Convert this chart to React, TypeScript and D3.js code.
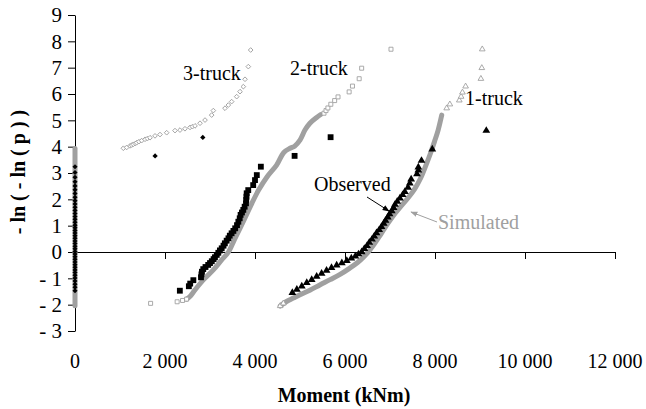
import React, { useEffect, useRef } from "react";
import * as d3 from "d3";

type Pt = [number, number];

// y tick values and x tick values
const yTicks = [-3, -2, -1, 0, 1, 2, 3, 4, 5, 6, 7, 8, 9];
const xTicks = [0, 2000, 4000, 6000, 8000, 10000, 12000];

// 3-truck: most events give zero moment (stacked at x = 0)
const sim3Zero = [-2.04, -1.8, -1.5, -1.2, -0.9, -0.6, -0.3, 0, 0.3, 0.6, 0.9, 1.2, 1.5, 1.8, 2.1, 2.4, 2.7, 3.0, 3.3, 3.6, 3.93];
const obs3Zero = [-1.47, -1.34, -1.22, -1.1, -0.99, -0.88, -0.78, -0.68, -0.58, -0.48, -0.38, -0.28, -0.18, -0.08, 0.02, 0.12, 0.22, 0.32, 0.42, 0.52, 0.62, 0.72, 0.82, 0.92, 1.02, 1.13, 1.24, 1.35, 1.46, 1.58, 1.7, 1.82, 1.95, 2.08, 2.22, 2.36, 2.51, 2.67, 2.84, 3.02, 3.24];
const sim3: Pt[] = [
  [1074, 3.94], [1148, 3.97], [1222, 4.03], [1260, 4.06], [1296, 4.09], [1340, 4.12], [1370, 4.15],
  [1420, 4.19], [1481, 4.23], [1556, 4.28], [1610, 4.31], [1667, 4.34], [1778, 4.41], [1889, 4.46],
  [2037, 4.53], [2222, 4.61], [2333, 4.63], [2444, 4.68], [2556, 4.73], [2610, 4.76], [2667, 4.79],
  [2778, 4.89], [2889, 5.01], [3037, 5.2], [3074, 5.37], [3333, 5.46], [3407, 5.58], [3481, 5.71],
  [3593, 5.9], [3667, 6.09], [3741, 6.28], [3778, 6.56], [3852, 7.04], [3904, 7.67],
];
const obs3: Pt[] = [[1780, 3.65], [2840, 4.35]];

// 2-truck
const sim2Low: Pt[] = [[1680, -1.95], [2270, -1.89], [2390, -1.84], [2480, -1.79]];
const sim2Band: Pt[] = [
  [2480, -1.79], [2560, -1.68], [2667, -1.44], [2852, -1.06], [3074, -0.68], [3259, -0.3],
  [3410, 0.0], [3540, 0.46], [3650, 0.84], [3790, 1.34], [3930, 1.85], [4080, 2.35],
  [4270, 2.86], [4480, 3.3], [4640, 3.78], [4780, 3.94], [4880, 4.02], [5000, 4.25],
  [5110, 4.63], [5220, 4.89], [5370, 5.11], [5460, 5.22],
];
const sim2High: Pt[] = [
  [5533, 5.27], [5578, 5.37], [5620, 5.47], [5685, 5.61], [5770, 5.75], [5845, 5.89],
  [6092, 6.08], [6166, 6.3], [6315, 6.58], [6370, 6.98], [7022, 7.7],
];
const obs2: Pt[] = [
  [2330, -1.47], [2530, -1.3], [2560, -1.2], [2630, -1.07], [2800, -0.96], [2810, -0.85],
  [2820, -0.75], [2850, -0.65], [2900, -0.57], [2960, -0.49], [3000, -0.42], [3040, -0.35],
  [3080, -0.27], [3110, -0.2], [3150, -0.11], [3185, -0.03], [3220, 0.06], [3260, 0.14],
  [3300, 0.24], [3330, 0.33], [3370, 0.43], [3410, 0.52], [3440, 0.62], [3480, 0.71],
  [3520, 0.8], [3560, 0.9], [3600, 1.02], [3630, 1.15], [3660, 1.28], [3680, 1.41],
  [3710, 1.5], [3740, 1.6], [3770, 1.72], [3800, 1.85], [3805, 1.98], [3810, 2.1],
  [3815, 2.23], [3850, 2.35], [3960, 2.54], [4000, 2.73], [4040, 2.92], [4130, 3.24],
  [4880, 3.65], [5680, 4.36],
];

// 1-truck
const sim1Band: Pt[] = [
  [4560, -2.05], [4700, -1.88], [4850, -1.75], [5000, -1.62], [5220, -1.45], [5440, -1.25],
  [5670, -1.05], [5890, -0.85], [6100, -0.62], [6280, -0.4], [6420, -0.18], [6540, 0.05],
  [6650, 0.3], [6760, 0.58], [6880, 0.9], [7000, 1.2], [7120, 1.48], [7250, 1.75],
  [7400, 2.05], [7550, 2.4], [7680, 2.8], [7800, 3.3], [7900, 3.75], [7990, 4.2],
  [8070, 4.63], [8150, 5.2],
];
const sim1Low: Pt[] = [[4560, -2.05], [4630, -1.95]];
const sim1High: Pt[] = [
  [8260, 5.46], [8330, 5.61], [8540, 5.76], [8580, 5.9], [8610, 6.06], [8680, 6.29],
  [9020, 6.58], [9040, 6.99], [9050, 7.7],
];
const obs1: Pt[] = [
  [4830, -1.55], [4930, -1.42], [5040, -1.3], [5150, -1.17], [5260, -1.05], [5370, -0.93],
  [5480, -0.82], [5590, -0.7], [5700, -0.6], [5815, -0.5], [5930, -0.42], [6040, -0.33],
  [6140, -0.24], [6230, -0.16], [6300, -0.08], [6370, 0.0], [6430, 0.12], [6490, 0.24],
  [6540, 0.36], [6600, 0.48], [6650, 0.6], [6700, 0.72], [6760, 0.84], [6810, 0.96],
  [6860, 1.08], [6900, 1.2], [6950, 1.32], [6990, 1.44], [7040, 1.56], [7080, 1.68],
  [7110, 1.8], [7160, 1.92], [7220, 2.04], [7280, 2.17], [7330, 2.29], [7400, 2.45],
  [7440, 2.61], [7470, 2.76], [7600, 2.96], [7630, 3.1], [7630, 3.22], [7700, 3.47],
  [7940, 3.9], [9140, 4.61],
];

const GRAY = "#a0a0a0";
const FONT = "'Liberation Serif', 'Times New Roman', serif";

const App: React.FC = () => {
  const svgRef = useRef<SVGSVGElement | null>(null);

  useEffect(() => {
    const width = 646;
    const height = 409;
    const svg = d3.select(svgRef.current);
    svg.selectAll("*").remove();
    svg.attr("viewBox", [0, 0, width, height]).attr("width", width).attr("height", height);

    const x = d3.scaleLinear().domain([0, 12000]).range([75, 615]);
    const y = d3.scaleLinear().domain([-3, 9]).range([331, 15]);

    const fmt = d3.formatLocale({ decimal: ".", thousands: " ", grouping: [3], currency: ["", ""] }).format(",");

    // axes
    const gy = svg
      .append("g")
      .attr("transform", `translate(${x(0)},0)`)
      .call(
        d3
          .axisLeft(y)
          .tickValues(yTicks)
          .tickSize(7)
          .tickSizeOuter(0)
          .tickPadding(6)
          .tickFormat((d) => ((d as number) < 0 ? "- " + Math.abs(d as number) : String(d))),
      );
    gy.selectAll("text").style("font-family", FONT).style("font-size", "21px").attr("fill", "#000");

    const gx = svg
      .append("g")
      .attr("transform", `translate(0,${y(0)})`)
      .call(d3.axisBottom(x).tickValues(xTicks).tickSize(7).tickSizeOuter(0).tickFormat(() => ""));
    gx.select(".domain").attr("stroke", "#000");

    svg
      .append("g")
      .selectAll("text")
      .data(xTicks)
      .enter()
      .append("text")
      .attr("x", (d) => x(d))
      .attr("y", 368)
      .attr("text-anchor", "middle")
      .style("font-family", FONT)
      .style("font-size", "20px")
      .text((d) => fmt(d));

    // axis titles
    svg
      .append("text")
      .attr("x", 344)
      .attr("y", 402)
      .attr("text-anchor", "middle")
      .style("font-family", FONT)
      .style("font-size", "20px")
      .style("font-weight", "bold")
      .text("Moment (kNm)");

    svg
      .append("text")
      .attr("transform", "translate(25,172) rotate(-90)")
      .attr("text-anchor", "middle")
      .style("font-family", FONT)
      .style("font-size", "20px")
      .style("font-weight", "bold")
      .text("- ln ( - ln ( p ) )");

    const line = d3
      .line<Pt>()
      .x((d) => x(d[0]))
      .y((d) => y(d[1]))
      .curve(d3.curveCatmullRom);

    const band = (pts: Pt[], w: number) =>
      svg
        .append("path")
        .attr("d", line(pts))
        .attr("fill", "none")
        .attr("stroke", GRAY)
        .attr("stroke-width", w)
        .attr("stroke-linecap", "round");

    const markers = (
      pts: Pt[],
      type: d3.SymbolType,
      size: number,
      fill: string,
      stroke: string,
      rot = 0,
    ) =>
      svg
        .append("g")
        .selectAll("path")
        .data(pts)
        .enter()
        .append("path")
        .attr("d", d3.symbol().type(type).size(size)())
        .attr("transform", (d) => `translate(${x(d[0])},${y(d[1])}) rotate(${rot})`)
        .attr("fill", fill)
        .attr("stroke", stroke)
        .attr("stroke-width", stroke === "none" ? 0 : 0.9);

    // simulated (gray)
    band(sim3Zero.map((v) => [0, v] as Pt), 5);
    markers(sim3, d3.symbolSquare, 11, "#fff", GRAY, 45);
    band(sim2Band, 5);
    markers(sim2Low, d3.symbolSquare, 16, "#fff", GRAY);
    markers(sim2High, d3.symbolSquare, 16, "#fff", GRAY);
    band(sim1Band, 5);
    markers(sim1Low, d3.symbolTriangle, 14, "#fff", GRAY);
    markers(sim1High, d3.symbolTriangle, 14, "#fff", GRAY);

    // observed (black)
    markers(obs3Zero.map((v) => [0, v] as Pt), d3.symbolSquare, 13, "#000", "none", 45);
    markers(obs3, d3.symbolSquare, 14, "#000", "none", 45);
    markers(obs2, d3.symbolSquare, 34, "#000", "none");
    markers(obs1, d3.symbolTriangle, 26, "#000", "none");

    // labels
    const label = (t: string, lx: number, ly: number, color = "#000") =>
      svg
        .append("text")
        .attr("x", lx)
        .attr("y", ly)
        .attr("fill", color)
        .style("font-family", FONT)
        .style("font-size", "20px")
        .text(t);

    label("3-truck", 183, 80);
    label("2-truck", 290, 75);
    label("1-truck", 465, 105);
    label("Observed", 314, 191);
    label("Simulated", 438, 229, GRAY);

    const defs = svg.append("defs");
    const head = (id: string, color: string) =>
      defs
        .append("marker")
        .attr("id", id)
        .attr("viewBox", "0 0 10 10")
        .attr("refX", 9)
        .attr("refY", 5)
        .attr("markerWidth", 7)
        .attr("markerHeight", 7)
        .attr("markerUnits", "userSpaceOnUse")
        .attr("orient", "auto")
        .append("path")
        .attr("d", "M0,1 L10,5 L0,9 Z")
        .attr("fill", color);
    head("ah-black", "#000");
    head("ah-gray", GRAY);

    svg
      .append("line")
      .attr("x1", 367)
      .attr("y1", 197)
      .attr("x2", 389)
      .attr("y2", 211)
      .attr("stroke", "#000")
      .attr("stroke-width", 1)
      .attr("marker-end", "url(#ah-black)");

    svg
      .append("line")
      .attr("x1", 437)
      .attr("y1", 222)
      .attr("x2", 411)
      .attr("y2", 212)
      .attr("stroke", GRAY)
      .attr("stroke-width", 1)
      .attr("marker-end", "url(#ah-gray)");
  }, []);

  return (
    <div style={{ position: "absolute", left: 0, top: 0, width: "646px", height: "409px", background: "#fff" }}>
      <svg ref={svgRef} style={{ display: "block" }}></svg>
    </div>
  );
};

export default App;
